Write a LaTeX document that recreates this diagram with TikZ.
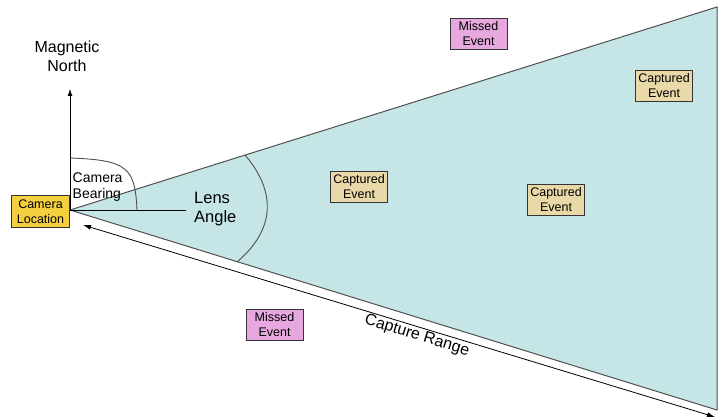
\documentclass[tikz,border=0pt]{standalone}
\usepackage{fontspec}
\setmainfont{Liberation Sans}
\usetikzlibrary{arrows.meta}
\definecolor{conefill}{HTML}{C6E5E6}
\definecolor{camyellow}{HTML}{F4D03F}
\definecolor{misspink}{HTML}{E6A8DE}
\definecolor{captan}{HTML}{EAD9A8}
\definecolor{edgegray}{HTML}{505050}
\tikzset{
  evbox/.style={draw=black!80, line width=0.8pt, minimum width=57pt, minimum height=31pt,
    inner sep=0pt, align=center, font=\fontsize{12.5pt}{15pt}\selectfont},
  missbox/.style={evbox, fill=misspink},
  capbox/.style={evbox, fill=captan},
  cambox/.style={evbox, fill=camyellow, minimum width=57.6pt, minimum height=31.6pt},
  bigtext/.style={align=left, inner sep=0pt, font=\fontsize{16.5pt}{19pt}\selectfont},
  midtext/.style={align=left, inner sep=0pt, font=\fontsize{14pt}{16pt}\selectfont},
  thinline/.style={draw=black, line width=0.8pt},
  coneedge/.style={draw=edgegray, line width=1pt}
}
\begin{document}
\begin{tikzpicture}[x=1pt,y=-1pt]
\useasboundingbox (0,0) rectangle (718,419);
% cone
\coordinate (apex) at (70,210);
\coordinate (ur) at (717,7);
\coordinate (lr) at (717,410);
\fill[conefill] (apex) -- (ur) -- (lr) -- cycle;
\draw[coneedge] (apex) -- (ur) -- (lr) -- cycle;
% magnetic north
\coordinate (northtip) at (70,89);
\draw[thinline, -{Latex[length=7pt,width=5pt]}] (apex) -- (northtip);
\node[bigtext, align=center, font=\fontsize{16pt}{19pt}\selectfont] (north) at (67,56) {Magnetic\\North};
% horizontal reference line
\coordinate (hend) at (186,210);
\draw[thinline] (apex) -- (hend);
% camera bearing arc
\coordinate (cb1) at (70,158);
\coordinate (cb2) at (137,210);
\draw[edgegray, line width=0.9pt] (cb1) .. controls (128,160) and (135,168) .. (cb2);
\node[midtext, anchor=west] (bearing) at (72.5,187) {Camera\\Bearing};
% lens angle arc
\coordinate (la1) at (245,155);
\coordinate (la2) at (237,262);
\draw[edgegray, line width=0.9pt] (la1) .. controls (275,190) and (277,228) .. (la2);
\node[bigtext, anchor=west] (lens) at (194,209) {Lens\\Angle};
% capture range arrow
\coordinate (cr1) at (83,225);
\coordinate (cr2) at (715,417);
\draw[thinline, {Latex[length=8pt,width=5pt]}-{Latex[length=8pt,width=5pt]}] (cr1) -- (cr2);
\node[inner sep=0pt, rotate=-17, font=\fontsize{16pt}{19pt}\selectfont] (range) at (417,336) {Capture Range};
% boxes
\node[cambox] (cam) at (40.5,211.5) {Camera\\Location};
\node[missbox] (miss1) at (478.5,34) {Missed\\Event};
\node[missbox] (miss2) at (274.5,325) {Missed\\Event};
\node[capbox] (cap1) at (359,187) {Captured\\Event};
\node[capbox] (cap2) at (556,200) {Captured\\Event};
\node[capbox] (cap3) at (664,85.5) {Captured\\Event};
\end{tikzpicture}
\end{document}
